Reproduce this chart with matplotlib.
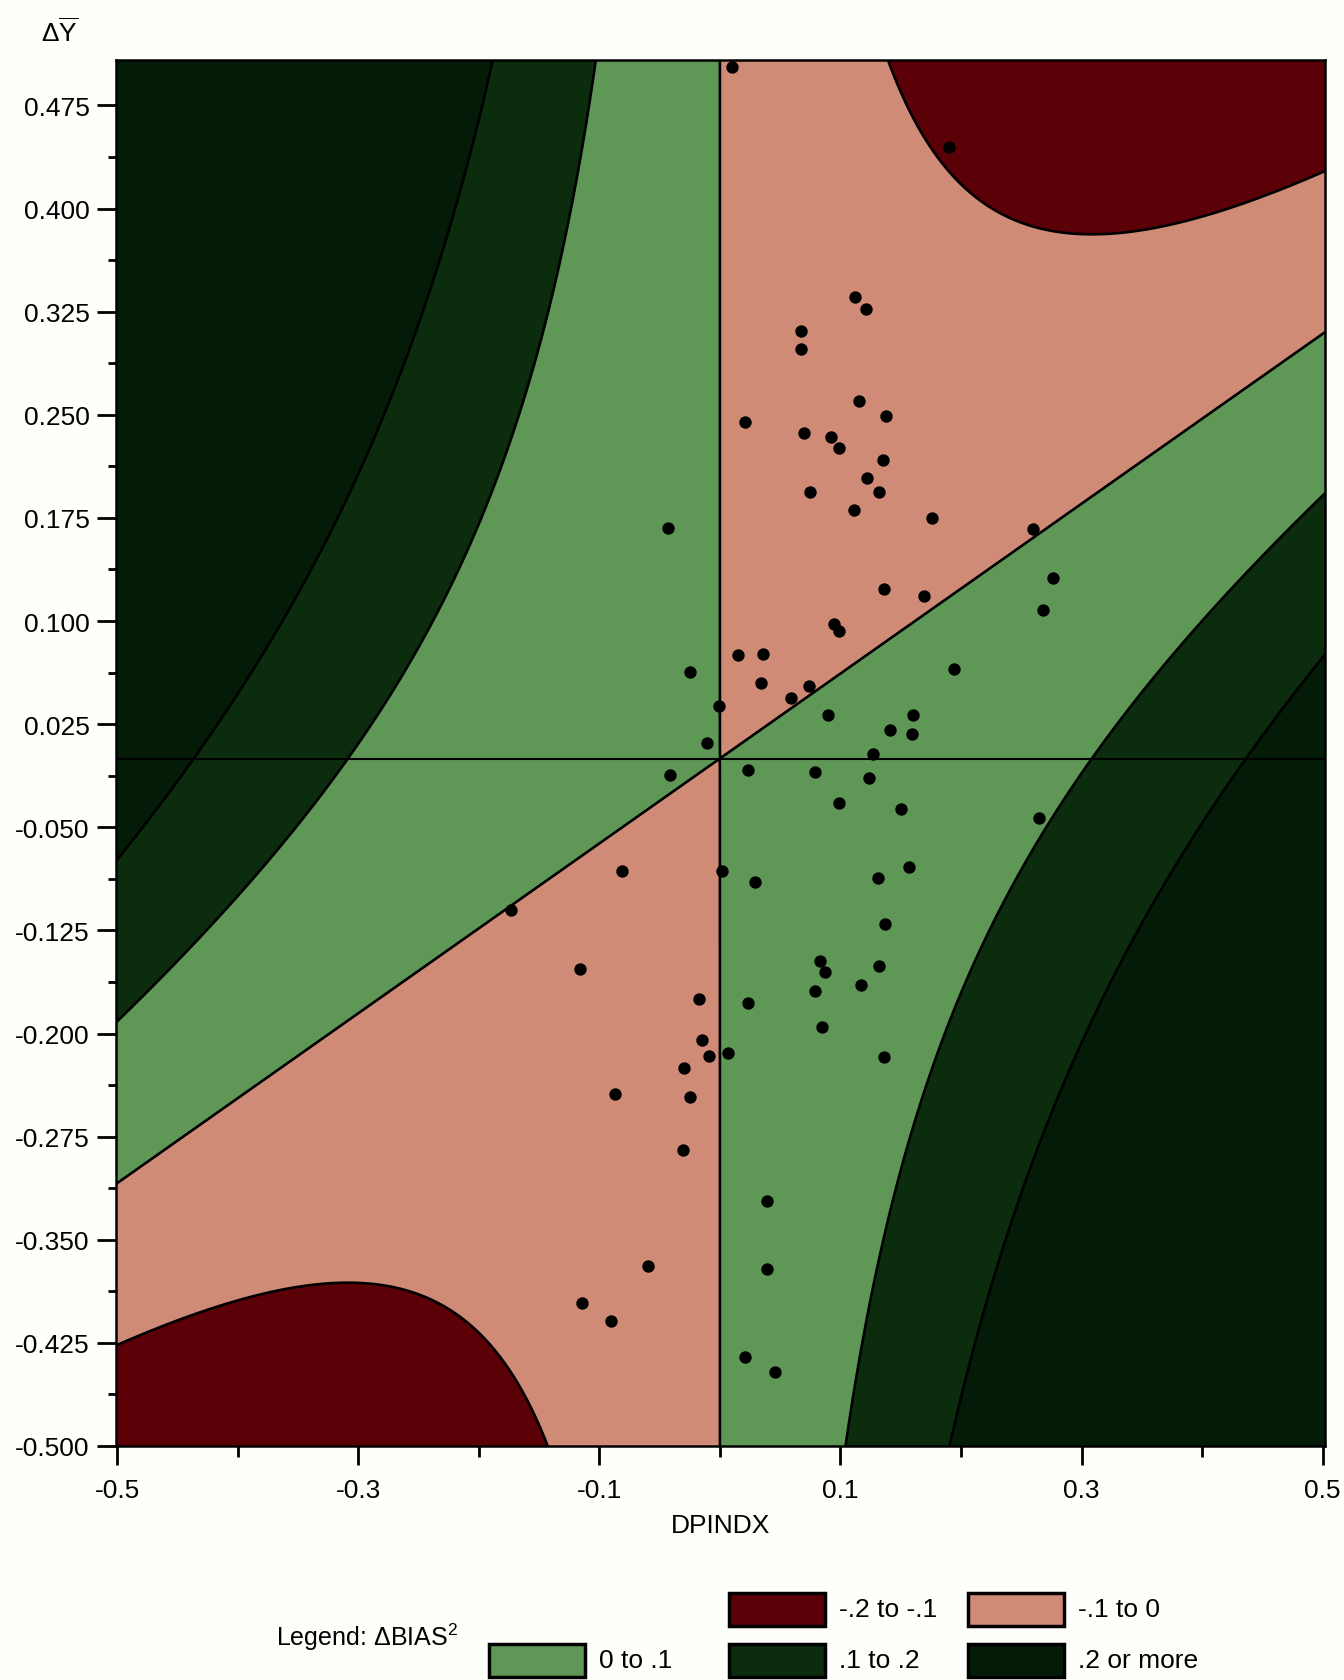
import matplotlib
matplotlib.use("Agg")
import matplotlib.pyplot as plt
import numpy as np
from matplotlib.patches import Rectangle

plt.rcParams["font.family"] = ["Liberation Sans", "DejaVu Sans"]
plt.rcParams["mathtext.fontset"] = "custom"
plt.rcParams["mathtext.rm"] = "Liberation Sans"
plt.rcParams["mathtext.it"] = "Liberation Sans:italic"

# response surface: dBIAS^2 = A*x^2 + B*x*y
COEF_XX = 1.05
COEF_XY = -1.70

level_bounds = [-0.2, -0.1, 0.0, 0.1, 0.2, 1.0]
level_colors = ["#5b0007", "#d08b76", "#5f9856", "#0b2d0e", "#041c07"]
level_labels = ["-.2 to -.1", "-.1 to 0", "0 to .1", ".1 to .2", ".2 or more"]

x_major = [-0.5, -0.3, -0.1, 0.1, 0.3, 0.5]
x_minor = [-0.4, -0.2, 0.0, 0.2, 0.4]
y_major = [0.475, 0.400, 0.325, 0.250, 0.175, 0.100, 0.025, -0.050,
           -0.125, -0.200, -0.275, -0.350, -0.425, -0.500]

dpindx = [0.010, 0.021, 0.190, 0.112, 0.121, 0.067, 0.067, 0.115, 0.138,
          0.070, 0.092, 0.099, 0.135, 0.122, 0.075, 0.132, 0.111, 0.176,
          0.260, 0.276, 0.268, 0.136, 0.169, 0.095, 0.099, 0.194, 0.074,
          0.059, 0.090, 0.160, 0.141, 0.159, 0.127, 0.079, 0.124, 0.099,
          0.150, 0.265, 0.157, 0.131, 0.137, -0.043, 0.015, 0.036, 0.034,
          -0.025, -0.001, -0.011, -0.041, 0.023, -0.081, 0.002, 0.029,
          -0.173, -0.116, -0.017, 0.023, -0.015, -0.009, 0.007, -0.030,
          -0.087, -0.025, -0.031, 0.039, 0.039, -0.060, -0.114, -0.090,
          0.021, 0.046, 0.083, 0.087, 0.132, 0.079, 0.117, 0.085, 0.136]
delta_y = [0.503, 0.245, 0.445, 0.336, 0.327, 0.311, 0.298, 0.260, 0.249,
           0.237, 0.234, 0.226, 0.217, 0.204, 0.194, 0.194, 0.181, 0.175,
           0.167, 0.131, 0.108, 0.123, 0.118, 0.098, 0.093, 0.065, 0.053,
           0.044, 0.032, 0.032, 0.021, 0.018, 0.003, -0.010, -0.014, -0.032,
           -0.037, -0.043, -0.079, -0.087, -0.120, 0.168, 0.075, 0.076, 0.055,
           0.063, 0.038, 0.011, -0.012, -0.008, -0.082, -0.082, -0.090,
           -0.110, -0.153, -0.175, -0.178, -0.205, -0.216, -0.214, -0.225,
           -0.244, -0.246, -0.285, -0.322, -0.371, -0.369, -0.396, -0.409,
           -0.435, -0.446, -0.147, -0.155, -0.151, -0.169, -0.165, -0.195,
           -0.217]

W, H = 1344, 1681
fig = plt.figure(figsize=(W / 100, H / 100), dpi=100, facecolor="#fefefa")
ax = fig.add_axes([116 / W, 1 - 1447 / H, 1209 / W, 1386 / H])

gx = np.linspace(-0.501, 0.502, 901)
gy = np.linspace(-0.5, 0.508, 901)
X, Y = np.meshgrid(gx, gy)
Z = COEF_XX * X ** 2 + COEF_XY * X * Y

ax.contourf(X, Y, Z, levels=level_bounds, colors=level_colors)
ax.contour(X, Y, Z, levels=level_bounds[1:-1], colors="black",
           linewidths=1.9, linestyles="solid")
ax.axhline(0, color="black", lw=1.5)
ax.scatter(dpindx, delta_y, s=80, color="black", zorder=5, clip_on=False,
           linewidths=0)

ax.set_xlim(-0.501, 0.502)
ax.set_ylim(-0.5, 0.508)
ax.set_xticks(x_major)
ax.set_xticks(x_minor, minor=True)
ax.set_yticks(y_major)
ax.set_yticks([v - 0.0375 for v in y_major[:-1]], minor=True)
ax.set_xticklabels([f"{v:.1f}" for v in x_major])
ax.set_yticklabels([f"{v:.3f}" for v in y_major])
ax.tick_params(which="both", direction="out", width=2, colors="black")
ax.tick_params(which="major", length=14, labelsize=19)
ax.tick_params(axis="y", which="major", pad=5)
ax.tick_params(axis="x", which="major", pad=9)
ax.tick_params(axis="y", which="minor", length=6)
ax.tick_params(axis="x", which="minor", length=8)
for sp in ax.spines.values():
    sp.set_linewidth(1.8)
ax.set_xlabel("DPINDX", fontsize=19, labelpad=8)

fig.text(60 / W, 1 - 32 / H, r"$\Delta\overline{\mathrm{Y}}$",
         ha="center", va="center", fontsize=19)

# legend block
fig.text(276 / W, 1 - 1637 / H, r"Legend: $\Delta\mathrm{BIAS}^{2}$",
         ha="left", va="center", fontsize=18)
slots = [(1, 0), (2, 0), (0, 1), (1, 1), (2, 1)]
col_x = [489, 729, 968]
row_top = [1594, 1645]
pw, ph = 96, 33
for (col, row), color, label in zip(slots, level_colors, level_labels):
    x0 = col_x[col]
    y0 = row_top[row]
    fig.patches.append(Rectangle((x0 / W, 1 - (y0 + ph) / H), pw / W, ph / H,
                                 transform=fig.transFigure, facecolor=color,
                                 edgecolor="black", linewidth=2.5))
    fig.text((x0 + pw + 14) / W, 1 - (y0 + ph / 2) / H, label,
             ha="left", va="center", fontsize=19)

fig.savefig("out.png", dpi=100, facecolor=fig.get_facecolor())
